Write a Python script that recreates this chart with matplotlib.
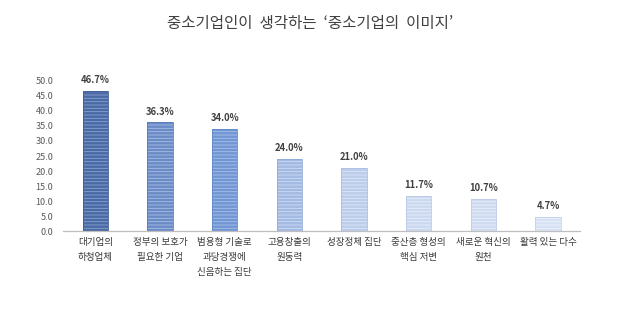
import numpy as np
import matplotlib.pyplot as plt

plt.rcParams['font.family'] = ['Noto Sans CJK KR', 'DejaVu Sans']
plt.rcParams['hatch.linewidth'] = 0.6

categories = ['대기업의\n하청업체', '정부의 보호가\n필요한 기업', '범용형 기술로\n과당경쟁에\n신음하는 집단',
              '고용창출의\n원동력', '성장정체 집단', '중산층 형성의\n핵심 저변', '새로운 혁신의\n원천', '활력 있는 다수']
values = [46.7, 36.3, 34.0, 24.0, 21.0, 11.7, 10.7, 4.7]
yticks = [0, 5, 10, 15, 20, 25, 30, 35, 40, 45, 50]

# darker blue on the left fading to pale blue on the right
fills = ['#4a6aa6', '#6b8bc6', '#7096d4', '#a3bae2', '#bccdeb', '#cbd9f0', '#cfdbf1', '#d6e1f4']
stripes = ['#8aa3cf', '#a9bfe6', '#a8c0ea', '#d0ddf3', '#dde7f7', '#e8eefa', '#eaf0fa', '#edf2fb']
edges = ['#3d5b94', '#5c7cb8', '#6088c8', '#91abd8', '#a9bde2', '#b9cae8', '#bccbe9', '#c4d2ec']

fig = plt.figure(figsize=(6.3, 3.25), dpi=100)
ax = fig.add_axes([0.1, 0.289, 0.821, 0.462])

x = np.arange(len(categories))
for i, v in enumerate(values):
    ax.bar(x[i], v, width=0.39, color=fills[i], edgecolor=stripes[i], hatch='-----', linewidth=0)
    ax.bar(x[i], v, width=0.39, color='none', edgecolor=edges[i], linewidth=0.6)
    ax.annotate(f'{v:.1f}%', (x[i], v), xytext=(0, 4), textcoords='offset points',
                ha='center', va='bottom', fontsize=6.8, fontweight='bold', color='#404040')

ax.set_xlim(-0.5, len(categories) - 0.5)
ax.set_ylim(0, 50)
ax.set_yticks(yticks)
ax.set_yticklabels([f'{t:.1f}' for t in yticks], fontsize=6.5, color='#595959')
ax.set_xticks(x)
ax.set_xticklabels(categories, fontsize=6.9, color='#3a3a3a', linespacing=1.85, va='top')
ax.tick_params(axis='both', length=0)
ax.tick_params(axis='x', pad=5)
ax.tick_params(axis='y', pad=7)
for side in ['top', 'right', 'left']:
    ax.spines[side].set_visible(False)
ax.spines['bottom'].set_color('#bfbfbf')
ax.spines['bottom'].set_linewidth(0.9)

fig.text(0.493, 0.928, '중소기업인이  생각하는  ‘중소기업의  이미지’', ha='center', va='center',
         fontsize=11.2, color='#404040')

fig.savefig('out.png', dpi=100)
